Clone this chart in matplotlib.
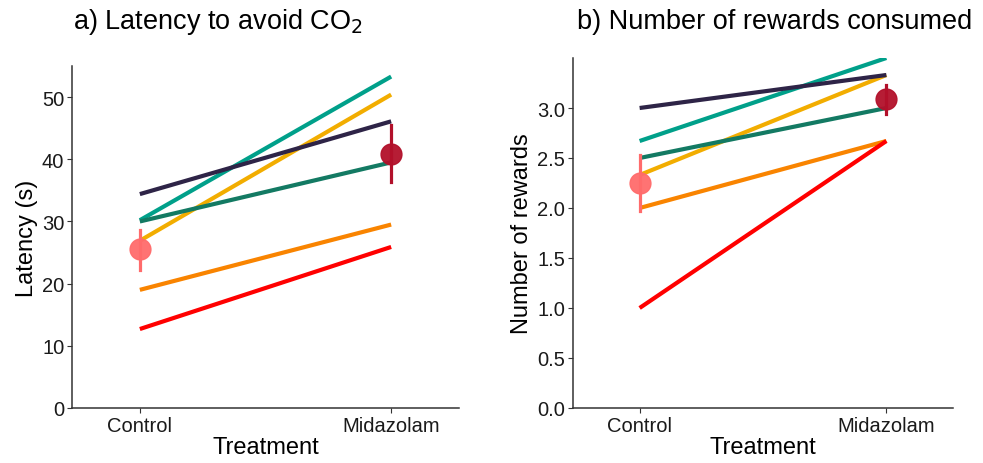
import numpy as np
import matplotlib.pyplot as plt

plt.rcParams['font.family'] = ['Liberation Sans', 'DejaVu Sans']

groups = ["Control", "Midazolam"]
colours = ["#00A08A", "#F2AD00", "#2E2447", "#137A63", "#F98400", "#FF0000"]

# per-subject values (control, midazolam)
latency = [[30.2, 53.3], [26.9, 50.4], [34.4, 46.1], [30.0, 39.5], [19.0, 29.5], [12.7, 25.9]]
rewards = [[2.67, 3.5], [2.33, 3.33], [3.0, 3.33], [2.5, 3.0], [2.0, 2.67], [1.0, 2.67]]

# group means and error bars
lat_mean = [25.5, 40.9]
lat_lo = [22.2, 36.4]
lat_hi = [28.7, 45.5]
rew_mean = [2.25, 3.09]
rew_lo = [1.97, 2.94]
rew_hi = [2.53, 3.23]
mean_cols = ["#FF6B6B", "#B2102A"]

fig = plt.figure(figsize=(9.83, 4.64), dpi=100)
ax1 = fig.add_axes([72/983, 55/464, 387/983, 342/464])
ax2 = fig.add_axes([573/983, 55/464, 380/983, 350/464])

def panel(ax, data, mean, lo, hi, ylim, ticks, ylabel):
    x = np.arange(len(groups))
    for vals, c in zip(data, colours):
        ax.plot(x, vals, color=c, lw=3, solid_capstyle='butt', zorder=2)
    for i in range(2):
        ax.plot([x[i], x[i]], [lo[i], hi[i]], color=mean_cols[i], lw=2.3, zorder=3)
        ax.plot(x[i], mean[i], 'o', ms=15, color=mean_cols[i], alpha=0.95, zorder=4)
    ax.set_xlim(-0.27, 1.27)
    ax.set_ylim(*ylim)
    ax.set_xticks(x)
    ax.set_xticklabels(groups)
    ax.set_yticks(ticks)
    for s in ['top', 'right']:
        ax.spines[s].set_visible(False)
    for s in ['left', 'bottom']:
        ax.spines[s].set_color('#333333')
        ax.spines[s].set_linewidth(1.1)
    ax.tick_params(labelsize=14.5, color='#333333', length=3.5, pad=2, labelcolor='#1a1a1a')
    ax.set_xlabel("Treatment", fontsize=17, labelpad=1)
    ax.set_ylabel(ylabel, fontsize=17, labelpad=3)

panel(ax1, latency, lat_mean, lat_lo, lat_hi, (0, 55), np.arange(0, 51, 10), "Latency (s)")
panel(ax2, rewards, rew_mean, rew_lo, rew_hi, (0, 3.5), np.arange(0, 3.01, 0.5), "Number of rewards")
ax2.set_yticklabels([f"{t:.1f}" for t in np.arange(0, 3.01, 0.5)])

fig.text(218/983, 1 - 22/464, r"a) Latency to avoid CO$_2$", fontsize=19.5, ha='center', va='center')
fig.text(775/983, 1 - 22/464, "b) Number of rewards consumed", fontsize=19.5, ha='center', va='center')

fig.savefig("out.png", dpi=100)
